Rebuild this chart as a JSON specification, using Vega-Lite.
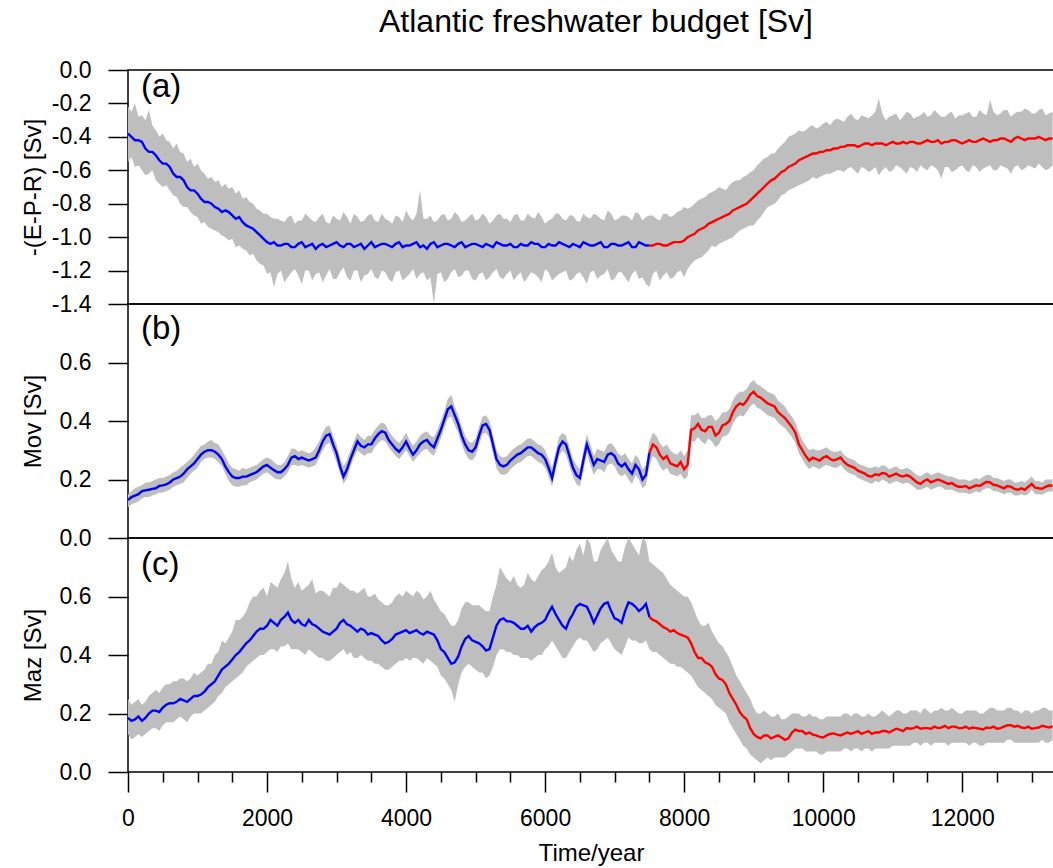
{
"$schema":"https://vega.github.io/schema/vega-lite/v6.json",
"padding":{"left":20,"top":5,"right":0,"bottom":0},
"spacing":0,
"bounds":"flush",
"config":{"view":{"stroke":"#000","strokeWidth":1.5},"font":"Liberation Sans",
"axis":{"labelFont":"Liberation Sans","titleFont":"Liberation Sans","labelFontSize":23,"titleFontSize":24,"titleFontWeight":"normal","labelColor":"#000","titleColor":"#000","tickColor":"#000","domain":false,"grid":false,"tickWidth":1.5,"labelOverlap":false}},
"datasets":{
"a":[
{"t":0,"v":-0.38,"lo":-0.55,"hi":-0.22},{"t":100,"v":-0.42,"lo":-0.58,"hi":-0.2},{"t":200,"v":-0.43,"lo":-0.6,"hi":-0.27},{"t":300,"v":-0.49,"lo":-0.62,"hi":-0.24},{"t":400,"v":-0.51,"lo":-0.66,"hi":-0.36},{"t":500,"v":-0.56,"lo":-0.7,"hi":-0.38},{"t":600,"v":-0.58,"lo":-0.72,"hi":-0.43},{"t":700,"v":-0.64,"lo":-0.76,"hi":-0.44},{"t":800,"v":-0.66,"lo":-0.82,"hi":-0.5},{"t":900,"v":-0.72,"lo":-0.85,"hi":-0.53},
{"t":1000,"v":-0.74,"lo":-0.88,"hi":-0.56},{"t":1100,"v":-0.79,"lo":-0.91,"hi":-0.62},{"t":1200,"v":-0.8,"lo":-0.95,"hi":-0.64},{"t":1300,"v":-0.83,"lo":-0.97,"hi":-0.66},{"t":1400,"v":-0.84,"lo":-1.0,"hi":-0.68},{"t":1500,"v":-0.87,"lo":-1.01,"hi":-0.7},{"t":1600,"v":-0.88,"lo":-1.05,"hi":-0.72},{"t":1700,"v":-0.93,"lo":-1.08,"hi":-0.76},{"t":1800,"v":-0.95,"lo":-1.1,"hi":-0.8},{"t":1900,"v":-0.99,"lo":-1.16,"hi":-0.84},
{"t":2000,"v":-1.03,"lo":-1.22,"hi":-0.86},{"t":2100,"v":-1.03,"lo":-1.3,"hi":-0.89},{"t":2200,"v":-1.05,"lo":-1.2,"hi":-0.9},{"t":2300,"v":-1.04,"lo":-1.24,"hi":-0.88},{"t":2400,"v":-1.06,"lo":-1.19,"hi":-0.92},{"t":2500,"v":-1.03,"lo":-1.28,"hi":-0.9},{"t":2600,"v":-1.05,"lo":-1.2,"hi":-0.88},{"t":2700,"v":-1.07,"lo":-1.22,"hi":-0.91},{"t":2800,"v":-1.04,"lo":-1.27,"hi":-0.86},{"t":2900,"v":-1.05,"lo":-1.19,"hi":-0.92},
{"t":3000,"v":-1.03,"lo":-1.25,"hi":-0.89},{"t":3100,"v":-1.06,"lo":-1.18,"hi":-0.85},{"t":3200,"v":-1.04,"lo":-1.26,"hi":-0.92},{"t":3300,"v":-1.05,"lo":-1.2,"hi":-0.88},{"t":3400,"v":-1.07,"lo":-1.23,"hi":-0.9},{"t":3500,"v":-1.03,"lo":-1.19,"hi":-0.86},{"t":3600,"v":-1.05,"lo":-1.25,"hi":-0.91},{"t":3700,"v":-1.04,"lo":-1.21,"hi":-0.89},{"t":3800,"v":-1.06,"lo":-1.27,"hi":-0.92},{"t":3900,"v":-1.03,"lo":-1.2,"hi":-0.88},
{"t":4000,"v":-1.05,"lo":-1.24,"hi":-0.84},{"t":4100,"v":-1.04,"lo":-1.19,"hi":-0.9},{"t":4200,"v":-1.06,"lo":-1.22,"hi":-0.72},{"t":4300,"v":-1.07,"lo":-1.26,"hi":-0.89},{"t":4400,"v":-1.03,"lo":-1.4,"hi":-0.91},{"t":4500,"v":-1.05,"lo":-1.21,"hi":-0.87},{"t":4600,"v":-1.04,"lo":-1.25,"hi":-0.9},{"t":4700,"v":-1.06,"lo":-1.19,"hi":-0.85},{"t":4800,"v":-1.03,"lo":-1.23,"hi":-0.91},{"t":4900,"v":-1.05,"lo":-1.2,"hi":-0.88},
{"t":5000,"v":-1.04,"lo":-1.26,"hi":-0.9},{"t":5100,"v":-1.06,"lo":-1.21,"hi":-0.86},{"t":5200,"v":-1.05,"lo":-1.24,"hi":-0.92},{"t":5300,"v":-1.03,"lo":-1.19,"hi":-0.87},{"t":5400,"v":-1.05,"lo":-1.25,"hi":-0.89},{"t":5500,"v":-1.04,"lo":-1.2,"hi":-0.91},{"t":5600,"v":-1.06,"lo":-1.23,"hi":-0.86},{"t":5700,"v":-1.05,"lo":-1.27,"hi":-0.9},{"t":5800,"v":-1.03,"lo":-1.21,"hi":-0.88},{"t":5900,"v":-1.04,"lo":-1.24,"hi":-0.85},
{"t":6000,"v":-1.06,"lo":-1.19,"hi":-0.92},{"t":6100,"v":-1.05,"lo":-1.26,"hi":-0.89},{"t":6200,"v":-1.03,"lo":-1.22,"hi":-0.86},{"t":6300,"v":-1.05,"lo":-1.2,"hi":-0.9},{"t":6400,"v":-1.04,"lo":-1.25,"hi":-0.87},{"t":6500,"v":-1.06,"lo":-1.21,"hi":-0.91},{"t":6600,"v":-1.04,"lo":-1.28,"hi":-0.88},{"t":6700,"v":-1.05,"lo":-1.2,"hi":-0.86},{"t":6800,"v":-1.03,"lo":-1.23,"hi":-0.89},{"t":6900,"v":-1.06,"lo":-1.19,"hi":-0.84},
{"t":7000,"v":-1.04,"lo":-1.25,"hi":-0.9},{"t":7100,"v":-1.05,"lo":-1.21,"hi":-0.87},{"t":7200,"v":-1.03,"lo":-1.27,"hi":-0.88},{"t":7300,"v":-1.06,"lo":-1.2,"hi":-0.85},{"t":7400,"v":-1.04,"lo":-1.24,"hi":-0.9},{"t":7500,"v":-1.05,"lo":-1.3,"hi":-0.87},{"t":7600,"v":-1.04,"lo":-1.2,"hi":-0.89},{"t":7700,"v":-1.05,"lo":-1.23,"hi":-0.86},{"t":7800,"v":-1.04,"lo":-1.25,"hi":-0.88},{"t":7900,"v":-1.03,"lo":-1.21,"hi":-0.85},
{"t":8000,"v":-1.02,"lo":-1.24,"hi":-0.82},{"t":8100,"v":-0.99,"lo":-1.16,"hi":-0.82},{"t":8200,"v":-0.96,"lo":-1.13,"hi":-0.78},{"t":8300,"v":-0.94,"lo":-1.1,"hi":-0.76},{"t":8400,"v":-0.91,"lo":-1.05,"hi":-0.73},{"t":8500,"v":-0.89,"lo":-1.04,"hi":-0.7},{"t":8600,"v":-0.87,"lo":-1.02,"hi":-0.72},{"t":8700,"v":-0.84,"lo":-1.0,"hi":-0.67},{"t":8800,"v":-0.82,"lo":-0.96,"hi":-0.66},{"t":8900,"v":-0.8,"lo":-0.94,"hi":-0.63},
{"t":9000,"v":-0.76,"lo":-0.93,"hi":-0.6},{"t":9100,"v":-0.72,"lo":-0.88,"hi":-0.55},{"t":9200,"v":-0.68,"lo":-0.82,"hi":-0.52},{"t":9300,"v":-0.65,"lo":-0.8,"hi":-0.5},{"t":9400,"v":-0.61,"lo":-0.75,"hi":-0.45},{"t":9500,"v":-0.58,"lo":-0.72,"hi":-0.4},{"t":9600,"v":-0.56,"lo":-0.7,"hi":-0.38},{"t":9700,"v":-0.53,"lo":-0.68,"hi":-0.37},{"t":9800,"v":-0.51,"lo":-0.66,"hi":-0.34},{"t":9900,"v":-0.5,"lo":-0.65,"hi":-0.35},
{"t":10000,"v":-0.49,"lo":-0.63,"hi":-0.32},{"t":10100,"v":-0.48,"lo":-0.62,"hi":-0.33},{"t":10200,"v":-0.47,"lo":-0.6,"hi":-0.29},{"t":10300,"v":-0.46,"lo":-0.61,"hi":-0.31},{"t":10400,"v":-0.45,"lo":-0.58,"hi":-0.26},{"t":10500,"v":-0.46,"lo":-0.62,"hi":-0.3},{"t":10600,"v":-0.44,"lo":-0.59,"hi":-0.28},{"t":10700,"v":-0.45,"lo":-0.6,"hi":-0.27},{"t":10800,"v":-0.44,"lo":-0.63,"hi":-0.17},{"t":10900,"v":-0.45,"lo":-0.58,"hi":-0.3},
{"t":11000,"v":-0.43,"lo":-0.6,"hi":-0.27},{"t":11100,"v":-0.44,"lo":-0.58,"hi":-0.3},{"t":11200,"v":-0.44,"lo":-0.62,"hi":-0.25},{"t":11300,"v":-0.43,"lo":-0.59,"hi":-0.29},{"t":11400,"v":-0.44,"lo":-0.57,"hi":-0.27},{"t":11500,"v":-0.42,"lo":-0.6,"hi":-0.28},{"t":11600,"v":-0.43,"lo":-0.58,"hi":-0.24},{"t":11700,"v":-0.44,"lo":-0.65,"hi":-0.28},{"t":11800,"v":-0.43,"lo":-0.58,"hi":-0.26},{"t":11900,"v":-0.42,"lo":-0.6,"hi":-0.29},
{"t":12000,"v":-0.44,"lo":-0.57,"hi":-0.27},{"t":12100,"v":-0.42,"lo":-0.61,"hi":-0.25},{"t":12200,"v":-0.43,"lo":-0.58,"hi":-0.28},{"t":12300,"v":-0.41,"lo":-0.59,"hi":-0.26},{"t":12400,"v":-0.43,"lo":-0.57,"hi":-0.18},{"t":12500,"v":-0.42,"lo":-0.6,"hi":-0.27},{"t":12600,"v":-0.41,"lo":-0.58,"hi":-0.24},{"t":12700,"v":-0.43,"lo":-0.62,"hi":-0.28},{"t":12800,"v":-0.4,"lo":-0.57,"hi":-0.25},{"t":12900,"v":-0.42,"lo":-0.59,"hi":-0.23},
{"t":13000,"v":-0.41,"lo":-0.58,"hi":-0.26},{"t":13100,"v":-0.4,"lo":-0.56,"hi":-0.24},{"t":13200,"v":-0.42,"lo":-0.6,"hi":-0.27},{"t":13300,"v":-0.41,"lo":-0.57,"hi":-0.25},
{"t":50,"v":-0.4,"lo":-0.52,"hi":-0.25},{"t":150,"v":-0.42,"lo":-0.57,"hi":-0.28},{"t":250,"v":-0.47,"lo":-0.63,"hi":-0.3},{"t":350,"v":-0.49,"lo":-0.6,"hi":-0.33},{"t":450,"v":-0.54,"lo":-0.68,"hi":-0.4},{"t":550,"v":-0.56,"lo":-0.69,"hi":-0.42},{"t":650,"v":-0.62,"lo":-0.75,"hi":-0.47},{"t":750,"v":-0.64,"lo":-0.8,"hi":-0.49},{"t":850,"v":-0.7,"lo":-0.82,"hi":-0.55},{"t":950,"v":-0.72,"lo":-0.87,"hi":-0.58},
{"t":1050,"v":-0.77,"lo":-0.92,"hi":-0.6},{"t":1150,"v":-0.79,"lo":-0.94,"hi":-0.65},{"t":1250,"v":-0.82,"lo":-0.96,"hi":-0.67},{"t":1350,"v":-0.85,"lo":-0.99,"hi":-0.7},{"t":1450,"v":-0.85,"lo":-1.02,"hi":-0.71},{"t":1550,"v":-0.89,"lo":-1.06,"hi":-0.74},{"t":1650,"v":-0.91,"lo":-1.07,"hi":-0.77},{"t":1750,"v":-0.94,"lo":-1.11,"hi":-0.79},{"t":1850,"v":-0.97,"lo":-1.14,"hi":-0.83},{"t":1950,"v":-1.01,"lo":-1.17,"hi":-0.86},
{"t":2050,"v":-1.04,"lo":-1.21,"hi":-0.88},{"t":2150,"v":-1.05,"lo":-1.22,"hi":-0.89},{"t":2250,"v":-1.04,"lo":-1.27,"hi":-0.91},{"t":2350,"v":-1.06,"lo":-1.21,"hi":-0.87},{"t":2450,"v":-1.04,"lo":-1.23,"hi":-0.9},{"t":2550,"v":-1.06,"lo":-1.2,"hi":-0.86},{"t":2650,"v":-1.04,"lo":-1.26,"hi":-0.9},{"t":2750,"v":-1.05,"lo":-1.21,"hi":-0.88},{"t":2850,"v":-1.06,"lo":-1.23,"hi":-0.91},{"t":2950,"v":-1.04,"lo":-1.25,"hi":-0.87},
{"t":3050,"v":-1.05,"lo":-1.21,"hi":-0.9},{"t":3150,"v":-1.04,"lo":-1.24,"hi":-0.88},{"t":3250,"v":-1.06,"lo":-1.2,"hi":-0.86},{"t":3350,"v":-1.04,"lo":-1.27,"hi":-0.91},{"t":3450,"v":-1.05,"lo":-1.22,"hi":-0.87},{"t":3550,"v":-1.06,"lo":-1.24,"hi":-0.9},{"t":3650,"v":-1.04,"lo":-1.2,"hi":-0.86},{"t":3750,"v":-1.05,"lo":-1.25,"hi":-0.9},{"t":3850,"v":-1.04,"lo":-1.21,"hi":-0.87},{"t":3950,"v":-1.06,"lo":-1.26,"hi":-0.91},
{"t":4050,"v":-1.05,"lo":-1.22,"hi":-0.88},{"t":4150,"v":-1.03,"lo":-1.25,"hi":-0.86},{"t":4250,"v":-1.05,"lo":-1.21,"hi":-0.89},{"t":4350,"v":-1.04,"lo":-1.24,"hi":-0.87},{"t":4450,"v":-1.06,"lo":-1.22,"hi":-0.9},{"t":4550,"v":-1.04,"lo":-1.27,"hi":-0.86},{"t":4650,"v":-1.05,"lo":-1.21,"hi":-0.89},{"t":4750,"v":-1.04,"lo":-1.24,"hi":-0.87},{"t":4850,"v":-1.06,"lo":-1.2,"hi":-0.9},{"t":4950,"v":-1.04,"lo":-1.25,"hi":-0.86},
{"t":5050,"v":-1.05,"lo":-1.22,"hi":-0.89},{"t":5150,"v":-1.04,"lo":-1.26,"hi":-0.88},{"t":5250,"v":-1.06,"lo":-1.21,"hi":-0.9},{"t":5350,"v":-1.04,"lo":-1.24,"hi":-0.86},{"t":5450,"v":-1.05,"lo":-1.22,"hi":-0.89},{"t":5550,"v":-1.06,"lo":-1.26,"hi":-0.87},{"t":5650,"v":-1.04,"lo":-1.21,"hi":-0.9},{"t":5750,"v":-1.05,"lo":-1.24,"hi":-0.86},{"t":5850,"v":-1.04,"lo":-1.22,"hi":-0.89},{"t":5950,"v":-1.06,"lo":-1.27,"hi":-0.88},
{"t":6050,"v":-1.04,"lo":-1.21,"hi":-0.9},{"t":6150,"v":-1.05,"lo":-1.24,"hi":-0.86},{"t":6250,"v":-1.04,"lo":-1.21,"hi":-0.89},{"t":6350,"v":-1.06,"lo":-1.26,"hi":-0.87},{"t":6450,"v":-1.05,"lo":-1.22,"hi":-0.9},{"t":6550,"v":-1.03,"lo":-1.24,"hi":-0.86},{"t":6650,"v":-1.05,"lo":-1.21,"hi":-0.89},{"t":6750,"v":-1.04,"lo":-1.25,"hi":-0.87},{"t":6850,"v":-1.06,"lo":-1.22,"hi":-0.9},{"t":6950,"v":-1.04,"lo":-1.26,"hi":-0.86},
{"t":7050,"v":-1.05,"lo":-1.21,"hi":-0.89},{"t":7150,"v":-1.04,"lo":-1.24,"hi":-0.87},{"t":7250,"v":-1.06,"lo":-1.22,"hi":-0.9},{"t":7350,"v":-1.03,"lo":-1.25,"hi":-0.86},{"t":7450,"v":-1.05,"lo":-1.28,"hi":-0.88},{"t":7550,"v":-1.05,"lo":-1.22,"hi":-0.87},{"t":7650,"v":-1.04,"lo":-1.26,"hi":-0.9},{"t":7750,"v":-1.05,"lo":-1.21,"hi":-0.86},{"t":7850,"v":-1.03,"lo":-1.24,"hi":-0.87},{"t":7950,"v":-1.03,"lo":-1.2,"hi":-0.84},
{"t":8050,"v":-1.0,"lo":-1.19,"hi":-0.83},{"t":8150,"v":-0.98,"lo":-1.14,"hi":-0.8},{"t":8250,"v":-0.95,"lo":-1.12,"hi":-0.77},{"t":8350,"v":-0.92,"lo":-1.08,"hi":-0.74},{"t":8450,"v":-0.9,"lo":-1.06,"hi":-0.72},{"t":8550,"v":-0.88,"lo":-1.03,"hi":-0.71},{"t":8650,"v":-0.86,"lo":-1.01,"hi":-0.69},{"t":8750,"v":-0.83,"lo":-0.98,"hi":-0.66},{"t":8850,"v":-0.81,"lo":-0.95,"hi":-0.64},{"t":8950,"v":-0.78,"lo":-0.93,"hi":-0.61},
{"t":9050,"v":-0.74,"lo":-0.9,"hi":-0.57},{"t":9150,"v":-0.7,"lo":-0.85,"hi":-0.53},{"t":9250,"v":-0.66,"lo":-0.81,"hi":-0.5},{"t":9350,"v":-0.63,"lo":-0.78,"hi":-0.47},{"t":9450,"v":-0.6,"lo":-0.74,"hi":-0.43},{"t":9550,"v":-0.57,"lo":-0.71,"hi":-0.39},{"t":9650,"v":-0.54,"lo":-0.69,"hi":-0.36},{"t":9750,"v":-0.52,"lo":-0.67,"hi":-0.36},{"t":9850,"v":-0.5,"lo":-0.64,"hi":-0.33},{"t":9950,"v":-0.49,"lo":-0.64,"hi":-0.34},
{"t":10050,"v":-0.48,"lo":-0.62,"hi":-0.31},{"t":10150,"v":-0.47,"lo":-0.61,"hi":-0.3},{"t":10250,"v":-0.46,"lo":-0.6,"hi":-0.3},{"t":10350,"v":-0.45,"lo":-0.59,"hi":-0.28},{"t":10450,"v":-0.45,"lo":-0.6,"hi":-0.29},{"t":10550,"v":-0.45,"lo":-0.58,"hi":-0.27},{"t":10650,"v":-0.44,"lo":-0.61,"hi":-0.29},{"t":10750,"v":-0.44,"lo":-0.58,"hi":-0.25},{"t":10850,"v":-0.44,"lo":-0.6,"hi":-0.26},{"t":10950,"v":-0.44,"lo":-0.61,"hi":-0.28},
{"t":11050,"v":-0.44,"lo":-0.57,"hi":-0.26},{"t":11150,"v":-0.43,"lo":-0.6,"hi":-0.28},{"t":11250,"v":-0.43,"lo":-0.58,"hi":-0.26},{"t":11350,"v":-0.44,"lo":-0.61,"hi":-0.28},{"t":11450,"v":-0.43,"lo":-0.59,"hi":-0.25},{"t":11550,"v":-0.43,"lo":-0.57,"hi":-0.27},{"t":11650,"v":-0.42,"lo":-0.6,"hi":-0.26},{"t":11750,"v":-0.43,"lo":-0.58,"hi":-0.28},{"t":11850,"v":-0.42,"lo":-0.61,"hi":-0.25},{"t":11950,"v":-0.43,"lo":-0.58,"hi":-0.27},
{"t":12050,"v":-0.43,"lo":-0.6,"hi":-0.26},{"t":12150,"v":-0.43,"lo":-0.57,"hi":-0.28},{"t":12250,"v":-0.42,"lo":-0.61,"hi":-0.24},{"t":12350,"v":-0.42,"lo":-0.58,"hi":-0.27},{"t":12450,"v":-0.42,"lo":-0.6,"hi":-0.25},{"t":12550,"v":-0.41,"lo":-0.57,"hi":-0.26},{"t":12650,"v":-0.42,"lo":-0.59,"hi":-0.24},{"t":12750,"v":-0.41,"lo":-0.58,"hi":-0.26},{"t":12850,"v":-0.41,"lo":-0.6,"hi":-0.25},{"t":12950,"v":-0.41,"lo":-0.57,"hi":-0.24},
{"t":13050,"v":-0.41,"lo":-0.59,"hi":-0.26},{"t":13150,"v":-0.41,"lo":-0.58,"hi":-0.23},{"t":13250,"v":-0.41,"lo":-0.59,"hi":-0.26}
],
"b":[
{"t":0,"v":0.13,"lo":0.105,"hi":0.15},{"t":100,"v":0.145,"lo":0.12,"hi":0.17},{"t":200,"v":0.16,"lo":0.135,"hi":0.18},{"t":300,"v":0.165,"lo":0.14,"hi":0.19},{"t":400,"v":0.17,"lo":0.15,"hi":0.2},{"t":500,"v":0.18,"lo":0.155,"hi":0.205},{"t":600,"v":0.19,"lo":0.165,"hi":0.215},{"t":700,"v":0.205,"lo":0.18,"hi":0.23},{"t":800,"v":0.22,"lo":0.19,"hi":0.25},{"t":900,"v":0.245,"lo":0.22,"hi":0.27},
{"t":1000,"v":0.27,"lo":0.24,"hi":0.3},{"t":1100,"v":0.295,"lo":0.27,"hi":0.32},{"t":1200,"v":0.3,"lo":0.275,"hi":0.335},{"t":1300,"v":0.285,"lo":0.26,"hi":0.32},{"t":1400,"v":0.245,"lo":0.22,"hi":0.28},{"t":1500,"v":0.21,"lo":0.18,"hi":0.24},{"t":1600,"v":0.205,"lo":0.175,"hi":0.23},{"t":1700,"v":0.21,"lo":0.18,"hi":0.235},{"t":1800,"v":0.22,"lo":0.195,"hi":0.245},{"t":1900,"v":0.235,"lo":0.21,"hi":0.26},
{"t":2000,"v":0.25,"lo":0.225,"hi":0.275},{"t":2100,"v":0.232,"lo":0.205,"hi":0.26},{"t":2200,"v":0.225,"lo":0.2,"hi":0.25},{"t":2300,"v":0.25,"lo":0.225,"hi":0.28},{"t":2400,"v":0.28,"lo":0.25,"hi":0.305},{"t":2500,"v":0.275,"lo":0.25,"hi":0.3},{"t":2600,"v":0.265,"lo":0.24,"hi":0.29},{"t":2700,"v":0.275,"lo":0.25,"hi":0.31},{"t":2800,"v":0.33,"lo":0.3,"hi":0.36},{"t":2900,"v":0.355,"lo":0.325,"hi":0.385},
{"t":3000,"v":0.29,"lo":0.26,"hi":0.32},{"t":3100,"v":0.21,"lo":0.185,"hi":0.245},{"t":3200,"v":0.27,"lo":0.245,"hi":0.3},{"t":3300,"v":0.33,"lo":0.3,"hi":0.36},{"t":3400,"v":0.31,"lo":0.28,"hi":0.335},{"t":3500,"v":0.32,"lo":0.29,"hi":0.35},{"t":3600,"v":0.355,"lo":0.325,"hi":0.385},{"t":3700,"v":0.36,"lo":0.33,"hi":0.39},{"t":3800,"v":0.32,"lo":0.295,"hi":0.35},{"t":3900,"v":0.295,"lo":0.27,"hi":0.325},
{"t":4000,"v":0.33,"lo":0.3,"hi":0.36},{"t":4100,"v":0.285,"lo":0.26,"hi":0.315},{"t":4200,"v":0.32,"lo":0.29,"hi":0.35},{"t":4300,"v":0.335,"lo":0.305,"hi":0.365},{"t":4400,"v":0.31,"lo":0.28,"hi":0.345},{"t":4500,"v":0.37,"lo":0.34,"hi":0.4},{"t":4600,"v":0.44,"lo":0.41,"hi":0.475},{"t":4700,"v":0.42,"lo":0.385,"hi":0.45},{"t":4800,"v":0.35,"lo":0.32,"hi":0.38},{"t":4900,"v":0.3,"lo":0.27,"hi":0.33},
{"t":5000,"v":0.31,"lo":0.28,"hi":0.34},{"t":5100,"v":0.385,"lo":0.355,"hi":0.415},{"t":5200,"v":0.37,"lo":0.34,"hi":0.4},{"t":5300,"v":0.27,"lo":0.24,"hi":0.3},{"t":5400,"v":0.245,"lo":0.215,"hi":0.275},{"t":5500,"v":0.265,"lo":0.235,"hi":0.295},{"t":5600,"v":0.285,"lo":0.255,"hi":0.315},{"t":5700,"v":0.3,"lo":0.27,"hi":0.33},{"t":5800,"v":0.31,"lo":0.28,"hi":0.34},{"t":5900,"v":0.29,"lo":0.26,"hi":0.32},
{"t":6000,"v":0.27,"lo":0.24,"hi":0.3},{"t":6100,"v":0.205,"lo":0.175,"hi":0.24},{"t":6200,"v":0.31,"lo":0.28,"hi":0.345},{"t":6300,"v":0.32,"lo":0.285,"hi":0.35},{"t":6400,"v":0.24,"lo":0.21,"hi":0.27},{"t":6500,"v":0.205,"lo":0.175,"hi":0.235},{"t":6600,"v":0.32,"lo":0.29,"hi":0.355},{"t":6700,"v":0.25,"lo":0.215,"hi":0.28},{"t":6800,"v":0.265,"lo":0.235,"hi":0.3},{"t":6900,"v":0.285,"lo":0.25,"hi":0.32},
{"t":7000,"v":0.28,"lo":0.245,"hi":0.31},{"t":7100,"v":0.245,"lo":0.21,"hi":0.28},{"t":7200,"v":0.235,"lo":0.2,"hi":0.27},{"t":7300,"v":0.25,"lo":0.215,"hi":0.285},{"t":7400,"v":0.2,"lo":0.17,"hi":0.235},{"t":7500,"v":0.29,"lo":0.25,"hi":0.33},{"t":7600,"v":0.31,"lo":0.27,"hi":0.35},{"t":7700,"v":0.27,"lo":0.23,"hi":0.31},{"t":7800,"v":0.255,"lo":0.22,"hi":0.3},{"t":7900,"v":0.245,"lo":0.21,"hi":0.285},
{"t":8000,"v":0.235,"lo":0.2,"hi":0.28},{"t":8100,"v":0.37,"lo":0.33,"hi":0.42},{"t":8200,"v":0.39,"lo":0.345,"hi":0.43},{"t":8300,"v":0.365,"lo":0.32,"hi":0.41},{"t":8400,"v":0.38,"lo":0.33,"hi":0.42},{"t":8500,"v":0.36,"lo":0.32,"hi":0.41},{"t":8600,"v":0.39,"lo":0.35,"hi":0.43},{"t":8700,"v":0.43,"lo":0.39,"hi":0.47},{"t":8800,"v":0.46,"lo":0.42,"hi":0.5},{"t":8900,"v":0.47,"lo":0.43,"hi":0.51},
{"t":9000,"v":0.5,"lo":0.46,"hi":0.54},{"t":9100,"v":0.48,"lo":0.44,"hi":0.52},{"t":9200,"v":0.46,"lo":0.42,"hi":0.5},{"t":9300,"v":0.45,"lo":0.41,"hi":0.49},{"t":9400,"v":0.42,"lo":0.385,"hi":0.46},{"t":9500,"v":0.395,"lo":0.36,"hi":0.43},{"t":9600,"v":0.36,"lo":0.325,"hi":0.395},{"t":9700,"v":0.3,"lo":0.27,"hi":0.335},{"t":9800,"v":0.265,"lo":0.235,"hi":0.3},{"t":9900,"v":0.27,"lo":0.24,"hi":0.3},
{"t":10000,"v":0.275,"lo":0.245,"hi":0.305},{"t":10100,"v":0.27,"lo":0.245,"hi":0.3},{"t":10200,"v":0.27,"lo":0.24,"hi":0.295},{"t":10300,"v":0.26,"lo":0.235,"hi":0.285},{"t":10400,"v":0.245,"lo":0.22,"hi":0.27},{"t":10500,"v":0.23,"lo":0.205,"hi":0.255},{"t":10600,"v":0.22,"lo":0.195,"hi":0.245},{"t":10700,"v":0.21,"lo":0.185,"hi":0.24},{"t":10800,"v":0.215,"lo":0.19,"hi":0.24},{"t":10900,"v":0.22,"lo":0.195,"hi":0.245},
{"t":11000,"v":0.215,"lo":0.19,"hi":0.24},{"t":11100,"v":0.213,"lo":0.19,"hi":0.235},{"t":11200,"v":0.215,"lo":0.19,"hi":0.24},{"t":11300,"v":0.2,"lo":0.175,"hi":0.225},{"t":11400,"v":0.185,"lo":0.165,"hi":0.21},{"t":11500,"v":0.2,"lo":0.175,"hi":0.225},{"t":11600,"v":0.195,"lo":0.17,"hi":0.22},{"t":11700,"v":0.195,"lo":0.175,"hi":0.22},{"t":11800,"v":0.185,"lo":0.165,"hi":0.21},{"t":11900,"v":0.18,"lo":0.16,"hi":0.205},
{"t":12000,"v":0.175,"lo":0.155,"hi":0.2},{"t":12100,"v":0.17,"lo":0.15,"hi":0.195},{"t":12200,"v":0.18,"lo":0.16,"hi":0.205},{"t":12300,"v":0.185,"lo":0.165,"hi":0.21},{"t":12400,"v":0.19,"lo":0.17,"hi":0.215},{"t":12500,"v":0.18,"lo":0.16,"hi":0.205},{"t":12600,"v":0.17,"lo":0.15,"hi":0.195},{"t":12700,"v":0.175,"lo":0.155,"hi":0.2},{"t":12800,"v":0.165,"lo":0.145,"hi":0.19},{"t":12900,"v":0.165,"lo":0.145,"hi":0.19},
{"t":13000,"v":0.185,"lo":0.165,"hi":0.21},{"t":13100,"v":0.17,"lo":0.15,"hi":0.195},{"t":13200,"v":0.175,"lo":0.155,"hi":0.2},{"t":13300,"v":0.178,"lo":0.158,"hi":0.2},
{"t":50,"v":0.14,"lo":0.115,"hi":0.16},{"t":150,"v":0.15,"lo":0.125,"hi":0.175},{"t":250,"v":0.163,"lo":0.14,"hi":0.19},{"t":350,"v":0.168,"lo":0.145,"hi":0.195},{"t":450,"v":0.178,"lo":0.155,"hi":0.205},{"t":550,"v":0.183,"lo":0.16,"hi":0.21},{"t":650,"v":0.2,"lo":0.175,"hi":0.225},{"t":750,"v":0.21,"lo":0.185,"hi":0.24},{"t":850,"v":0.235,"lo":0.205,"hi":0.26},{"t":950,"v":0.255,"lo":0.23,"hi":0.285},
{"t":1050,"v":0.285,"lo":0.26,"hi":0.315},{"t":1150,"v":0.3,"lo":0.275,"hi":0.33},{"t":1250,"v":0.295,"lo":0.27,"hi":0.325},{"t":1350,"v":0.27,"lo":0.245,"hi":0.3},{"t":1450,"v":0.225,"lo":0.195,"hi":0.255},{"t":1550,"v":0.205,"lo":0.175,"hi":0.235},{"t":1650,"v":0.21,"lo":0.18,"hi":0.24},{"t":1750,"v":0.215,"lo":0.19,"hi":0.24},{"t":1850,"v":0.225,"lo":0.2,"hi":0.25},{"t":1950,"v":0.245,"lo":0.22,"hi":0.27},
{"t":2050,"v":0.24,"lo":0.215,"hi":0.27},{"t":2150,"v":0.225,"lo":0.2,"hi":0.25},{"t":2250,"v":0.235,"lo":0.21,"hi":0.26},{"t":2350,"v":0.275,"lo":0.25,"hi":0.305},{"t":2450,"v":0.27,"lo":0.245,"hi":0.295},{"t":2550,"v":0.27,"lo":0.245,"hi":0.295},{"t":2650,"v":0.27,"lo":0.245,"hi":0.295},{"t":2750,"v":0.3,"lo":0.275,"hi":0.33},{"t":2850,"v":0.35,"lo":0.32,"hi":0.38},{"t":2950,"v":0.32,"lo":0.29,"hi":0.35},
{"t":3050,"v":0.245,"lo":0.22,"hi":0.275},{"t":3150,"v":0.235,"lo":0.205,"hi":0.265},{"t":3250,"v":0.3,"lo":0.275,"hi":0.33},{"t":3350,"v":0.315,"lo":0.29,"hi":0.345},{"t":3450,"v":0.32,"lo":0.29,"hi":0.35},{"t":3550,"v":0.34,"lo":0.31,"hi":0.37},{"t":3650,"v":0.365,"lo":0.335,"hi":0.395},{"t":3750,"v":0.335,"lo":0.31,"hi":0.365},{"t":3850,"v":0.305,"lo":0.28,"hi":0.335},{"t":3950,"v":0.31,"lo":0.285,"hi":0.34},
{"t":4050,"v":0.305,"lo":0.28,"hi":0.335},{"t":4150,"v":0.3,"lo":0.275,"hi":0.33},{"t":4250,"v":0.33,"lo":0.3,"hi":0.36},{"t":4350,"v":0.32,"lo":0.29,"hi":0.35},{"t":4450,"v":0.34,"lo":0.31,"hi":0.37},{"t":4550,"v":0.405,"lo":0.375,"hi":0.435},{"t":4650,"v":0.45,"lo":0.415,"hi":0.49},{"t":4750,"v":0.39,"lo":0.36,"hi":0.42},{"t":4850,"v":0.32,"lo":0.29,"hi":0.35},{"t":4950,"v":0.295,"lo":0.265,"hi":0.325},
{"t":5050,"v":0.35,"lo":0.32,"hi":0.38},{"t":5150,"v":0.39,"lo":0.36,"hi":0.42},{"t":5250,"v":0.32,"lo":0.29,"hi":0.35},{"t":5350,"v":0.25,"lo":0.22,"hi":0.28},{"t":5450,"v":0.25,"lo":0.22,"hi":0.28},{"t":5550,"v":0.275,"lo":0.245,"hi":0.305},{"t":5650,"v":0.29,"lo":0.26,"hi":0.32},{"t":5750,"v":0.31,"lo":0.28,"hi":0.34},{"t":5850,"v":0.3,"lo":0.27,"hi":0.33},{"t":5950,"v":0.285,"lo":0.255,"hi":0.315},
{"t":6050,"v":0.24,"lo":0.21,"hi":0.27},{"t":6150,"v":0.26,"lo":0.23,"hi":0.295},{"t":6250,"v":0.33,"lo":0.3,"hi":0.36},{"t":6350,"v":0.28,"lo":0.245,"hi":0.31},{"t":6450,"v":0.215,"lo":0.185,"hi":0.25},{"t":6550,"v":0.265,"lo":0.23,"hi":0.3},{"t":6650,"v":0.285,"lo":0.25,"hi":0.32},{"t":6750,"v":0.27,"lo":0.235,"hi":0.305},{"t":6850,"v":0.26,"lo":0.225,"hi":0.295},{"t":6950,"v":0.29,"lo":0.255,"hi":0.325},
{"t":7050,"v":0.255,"lo":0.22,"hi":0.29},{"t":7150,"v":0.255,"lo":0.22,"hi":0.29},{"t":7250,"v":0.22,"lo":0.185,"hi":0.255},{"t":7350,"v":0.235,"lo":0.2,"hi":0.27},{"t":7450,"v":0.215,"lo":0.18,"hi":0.25},{"t":7550,"v":0.32,"lo":0.28,"hi":0.36},{"t":7650,"v":0.285,"lo":0.245,"hi":0.325},{"t":7750,"v":0.28,"lo":0.24,"hi":0.32},{"t":7850,"v":0.25,"lo":0.215,"hi":0.29},{"t":7950,"v":0.26,"lo":0.22,"hi":0.3},
{"t":8050,"v":0.25,"lo":0.21,"hi":0.3},{"t":8150,"v":0.375,"lo":0.33,"hi":0.42},{"t":8250,"v":0.37,"lo":0.33,"hi":0.41},{"t":8350,"v":0.38,"lo":0.34,"hi":0.42},{"t":8450,"v":0.35,"lo":0.31,"hi":0.4},{"t":8550,"v":0.385,"lo":0.345,"hi":0.43},{"t":8650,"v":0.4,"lo":0.36,"hi":0.44},{"t":8750,"v":0.45,"lo":0.41,"hi":0.49},{"t":8850,"v":0.455,"lo":0.415,"hi":0.5},{"t":8950,"v":0.49,"lo":0.45,"hi":0.53},
{"t":9050,"v":0.485,"lo":0.445,"hi":0.525},{"t":9150,"v":0.47,"lo":0.43,"hi":0.51},{"t":9250,"v":0.455,"lo":0.415,"hi":0.495},{"t":9350,"v":0.43,"lo":0.395,"hi":0.47},{"t":9450,"v":0.41,"lo":0.375,"hi":0.45},{"t":9550,"v":0.38,"lo":0.345,"hi":0.415},{"t":9650,"v":0.32,"lo":0.29,"hi":0.36},{"t":9750,"v":0.28,"lo":0.25,"hi":0.315},{"t":9850,"v":0.275,"lo":0.245,"hi":0.305},{"t":9950,"v":0.265,"lo":0.235,"hi":0.3},
{"t":10050,"v":0.28,"lo":0.25,"hi":0.31},{"t":10150,"v":0.265,"lo":0.24,"hi":0.295},{"t":10250,"v":0.275,"lo":0.25,"hi":0.3},{"t":10350,"v":0.25,"lo":0.225,"hi":0.275},{"t":10450,"v":0.24,"lo":0.215,"hi":0.265},{"t":10550,"v":0.225,"lo":0.2,"hi":0.25},{"t":10650,"v":0.212,"lo":0.19,"hi":0.24},{"t":10750,"v":0.218,"lo":0.195,"hi":0.245},{"t":10850,"v":0.222,"lo":0.2,"hi":0.25},{"t":10950,"v":0.21,"lo":0.185,"hi":0.235},
{"t":11050,"v":0.22,"lo":0.195,"hi":0.245},{"t":11150,"v":0.21,"lo":0.185,"hi":0.235},{"t":11250,"v":0.21,"lo":0.185,"hi":0.235},{"t":11350,"v":0.19,"lo":0.165,"hi":0.215},{"t":11450,"v":0.195,"lo":0.17,"hi":0.22},{"t":11550,"v":0.19,"lo":0.165,"hi":0.215},{"t":11650,"v":0.2,"lo":0.175,"hi":0.225},{"t":11750,"v":0.19,"lo":0.165,"hi":0.215},{"t":11850,"v":0.188,"lo":0.165,"hi":0.21},{"t":11950,"v":0.175,"lo":0.155,"hi":0.2},
{"t":12050,"v":0.178,"lo":0.155,"hi":0.2},{"t":12150,"v":0.175,"lo":0.155,"hi":0.2},{"t":12250,"v":0.178,"lo":0.155,"hi":0.2},{"t":12350,"v":0.192,"lo":0.17,"hi":0.215},{"t":12450,"v":0.182,"lo":0.16,"hi":0.205},{"t":12550,"v":0.175,"lo":0.155,"hi":0.2},{"t":12650,"v":0.178,"lo":0.155,"hi":0.2},{"t":12750,"v":0.168,"lo":0.145,"hi":0.19},{"t":12850,"v":0.17,"lo":0.15,"hi":0.195},{"t":12950,"v":0.175,"lo":0.15,"hi":0.2},
{"t":13050,"v":0.172,"lo":0.15,"hi":0.195},{"t":13150,"v":0.168,"lo":0.148,"hi":0.19},{"t":13250,"v":0.18,"lo":0.16,"hi":0.2}
],
"c":[
{"t":0,"v":0.185,"lo":0.13,"hi":0.25},{"t":100,"v":0.18,"lo":0.12,"hi":0.24},{"t":200,"v":0.175,"lo":0.12,"hi":0.23},{"t":300,"v":0.2,"lo":0.14,"hi":0.26},{"t":400,"v":0.21,"lo":0.15,"hi":0.28},{"t":500,"v":0.22,"lo":0.16,"hi":0.29},{"t":600,"v":0.235,"lo":0.17,"hi":0.3},{"t":700,"v":0.24,"lo":0.18,"hi":0.31},{"t":800,"v":0.245,"lo":0.18,"hi":0.32},{"t":900,"v":0.25,"lo":0.19,"hi":0.32},
{"t":1000,"v":0.26,"lo":0.2,"hi":0.33},{"t":1100,"v":0.275,"lo":0.21,"hi":0.35},{"t":1200,"v":0.3,"lo":0.23,"hi":0.37},{"t":1300,"v":0.33,"lo":0.26,"hi":0.41},{"t":1400,"v":0.36,"lo":0.29,"hi":0.44},{"t":1500,"v":0.385,"lo":0.31,"hi":0.48},{"t":1600,"v":0.41,"lo":0.33,"hi":0.52},{"t":1700,"v":0.44,"lo":0.36,"hi":0.55},{"t":1800,"v":0.465,"lo":0.38,"hi":0.6},{"t":1900,"v":0.49,"lo":0.4,"hi":0.62},
{"t":2000,"v":0.5,"lo":0.41,"hi":0.6},{"t":2100,"v":0.51,"lo":0.42,"hi":0.64},{"t":2200,"v":0.52,"lo":0.43,"hi":0.66},{"t":2300,"v":0.545,"lo":0.44,"hi":0.72},{"t":2400,"v":0.51,"lo":0.42,"hi":0.63},{"t":2500,"v":0.505,"lo":0.41,"hi":0.62},{"t":2600,"v":0.52,"lo":0.42,"hi":0.64},{"t":2700,"v":0.5,"lo":0.4,"hi":0.61},{"t":2800,"v":0.48,"lo":0.39,"hi":0.62},{"t":2900,"v":0.47,"lo":0.38,"hi":0.6},
{"t":3000,"v":0.49,"lo":0.4,"hi":0.63},{"t":3100,"v":0.52,"lo":0.42,"hi":0.64},{"t":3200,"v":0.5,"lo":0.41,"hi":0.62},{"t":3300,"v":0.48,"lo":0.39,"hi":0.61},{"t":3400,"v":0.485,"lo":0.39,"hi":0.63},{"t":3500,"v":0.475,"lo":0.38,"hi":0.6},{"t":3600,"v":0.465,"lo":0.37,"hi":0.59},{"t":3700,"v":0.44,"lo":0.35,"hi":0.57},{"t":3800,"v":0.455,"lo":0.36,"hi":0.58},{"t":3900,"v":0.475,"lo":0.38,"hi":0.61},
{"t":4000,"v":0.485,"lo":0.39,"hi":0.62},{"t":4100,"v":0.48,"lo":0.39,"hi":0.6},{"t":4200,"v":0.475,"lo":0.38,"hi":0.61},{"t":4300,"v":0.48,"lo":0.39,"hi":0.6},{"t":4400,"v":0.47,"lo":0.37,"hi":0.59},{"t":4500,"v":0.42,"lo":0.33,"hi":0.55},{"t":4600,"v":0.39,"lo":0.3,"hi":0.52},{"t":4700,"v":0.375,"lo":0.24,"hi":0.5},{"t":4800,"v":0.43,"lo":0.34,"hi":0.56},{"t":4900,"v":0.465,"lo":0.37,"hi":0.58},
{"t":5000,"v":0.445,"lo":0.35,"hi":0.57},{"t":5100,"v":0.43,"lo":0.34,"hi":0.56},{"t":5200,"v":0.42,"lo":0.33,"hi":0.55},{"t":5300,"v":0.5,"lo":0.4,"hi":0.64},{"t":5400,"v":0.525,"lo":0.42,"hi":0.68},{"t":5500,"v":0.515,"lo":0.41,"hi":0.65},{"t":5600,"v":0.5,"lo":0.4,"hi":0.64},{"t":5700,"v":0.49,"lo":0.39,"hi":0.64},{"t":5800,"v":0.48,"lo":0.38,"hi":0.66},{"t":5900,"v":0.505,"lo":0.4,"hi":0.67},
{"t":6000,"v":0.52,"lo":0.42,"hi":0.7},{"t":6100,"v":0.565,"lo":0.45,"hi":0.75},{"t":6200,"v":0.52,"lo":0.41,"hi":0.68},{"t":6300,"v":0.49,"lo":0.39,"hi":0.7},{"t":6400,"v":0.54,"lo":0.43,"hi":0.72},{"t":6500,"v":0.575,"lo":0.46,"hi":0.78},{"t":6600,"v":0.565,"lo":0.45,"hi":0.8},{"t":6700,"v":0.51,"lo":0.41,"hi":0.72},{"t":6800,"v":0.56,"lo":0.44,"hi":0.76},{"t":6900,"v":0.58,"lo":0.46,"hi":0.8},
{"t":7000,"v":0.525,"lo":0.42,"hi":0.74},{"t":7100,"v":0.51,"lo":0.4,"hi":0.72},{"t":7200,"v":0.58,"lo":0.46,"hi":0.8},{"t":7300,"v":0.565,"lo":0.45,"hi":0.76},{"t":7400,"v":0.56,"lo":0.44,"hi":0.8},{"t":7500,"v":0.53,"lo":0.42,"hi":0.72},{"t":7600,"v":0.515,"lo":0.41,"hi":0.7},{"t":7700,"v":0.495,"lo":0.39,"hi":0.68},{"t":7800,"v":0.48,"lo":0.37,"hi":0.64},{"t":7900,"v":0.475,"lo":0.36,"hi":0.62},
{"t":8000,"v":0.465,"lo":0.35,"hi":0.6},{"t":8100,"v":0.44,"lo":0.33,"hi":0.58},{"t":8200,"v":0.39,"lo":0.29,"hi":0.52},{"t":8300,"v":0.375,"lo":0.27,"hi":0.5},{"t":8400,"v":0.36,"lo":0.25,"hi":0.48},{"t":8500,"v":0.32,"lo":0.22,"hi":0.44},{"t":8600,"v":0.3,"lo":0.2,"hi":0.41},{"t":8700,"v":0.25,"lo":0.15,"hi":0.36},{"t":8800,"v":0.205,"lo":0.11,"hi":0.31},{"t":8900,"v":0.18,"lo":0.08,"hi":0.27},
{"t":9000,"v":0.13,"lo":0.05,"hi":0.22},{"t":9100,"v":0.115,"lo":0.03,"hi":0.2},{"t":9200,"v":0.125,"lo":0.05,"hi":0.2},{"t":9300,"v":0.12,"lo":0.05,"hi":0.19},{"t":9400,"v":0.118,"lo":0.05,"hi":0.18},{"t":9500,"v":0.115,"lo":0.06,"hi":0.19},{"t":9600,"v":0.145,"lo":0.08,"hi":0.2},{"t":9700,"v":0.14,"lo":0.08,"hi":0.19},{"t":9800,"v":0.135,"lo":0.07,"hi":0.2},{"t":9900,"v":0.125,"lo":0.07,"hi":0.19},
{"t":10000,"v":0.118,"lo":0.06,"hi":0.18},{"t":10100,"v":0.13,"lo":0.07,"hi":0.19},{"t":10200,"v":0.128,"lo":0.07,"hi":0.19},{"t":10300,"v":0.13,"lo":0.08,"hi":0.2},{"t":10400,"v":0.13,"lo":0.07,"hi":0.19},{"t":10500,"v":0.14,"lo":0.08,"hi":0.2},{"t":10600,"v":0.135,"lo":0.08,"hi":0.19},{"t":10700,"v":0.13,"lo":0.07,"hi":0.19},{"t":10800,"v":0.135,"lo":0.08,"hi":0.2},{"t":10900,"v":0.14,"lo":0.08,"hi":0.2},
{"t":11000,"v":0.142,"lo":0.09,"hi":0.2},{"t":11100,"v":0.145,"lo":0.09,"hi":0.21},{"t":11200,"v":0.15,"lo":0.09,"hi":0.2},{"t":11300,"v":0.15,"lo":0.1,"hi":0.21},{"t":11400,"v":0.148,"lo":0.09,"hi":0.2},{"t":11500,"v":0.15,"lo":0.1,"hi":0.21},{"t":11600,"v":0.155,"lo":0.1,"hi":0.21},{"t":11700,"v":0.152,"lo":0.1,"hi":0.22},{"t":11800,"v":0.15,"lo":0.09,"hi":0.21},{"t":11900,"v":0.155,"lo":0.1,"hi":0.21},
{"t":12000,"v":0.15,"lo":0.1,"hi":0.2},{"t":12100,"v":0.148,"lo":0.09,"hi":0.21},{"t":12200,"v":0.15,"lo":0.1,"hi":0.21},{"t":12300,"v":0.145,"lo":0.09,"hi":0.2},{"t":12400,"v":0.15,"lo":0.1,"hi":0.22},{"t":12500,"v":0.148,"lo":0.1,"hi":0.21},{"t":12600,"v":0.155,"lo":0.1,"hi":0.21},{"t":12700,"v":0.16,"lo":0.11,"hi":0.22},{"t":12800,"v":0.158,"lo":0.1,"hi":0.21},{"t":12900,"v":0.15,"lo":0.1,"hi":0.21},
{"t":13000,"v":0.148,"lo":0.1,"hi":0.2},{"t":13100,"v":0.152,"lo":0.1,"hi":0.21},{"t":13200,"v":0.155,"lo":0.1,"hi":0.22},{"t":13300,"v":0.157,"lo":0.11,"hi":0.21},
{"t":50,"v":0.175,"lo":0.11,"hi":0.23},{"t":150,"v":0.19,"lo":0.13,"hi":0.25},{"t":250,"v":0.185,"lo":0.13,"hi":0.24},{"t":350,"v":0.21,"lo":0.15,"hi":0.27},{"t":450,"v":0.205,"lo":0.14,"hi":0.27},{"t":550,"v":0.23,"lo":0.17,"hi":0.3},{"t":650,"v":0.235,"lo":0.17,"hi":0.31},{"t":750,"v":0.25,"lo":0.19,"hi":0.32},{"t":850,"v":0.24,"lo":0.17,"hi":0.31},{"t":950,"v":0.26,"lo":0.2,"hi":0.34},
{"t":1050,"v":0.265,"lo":0.2,"hi":0.34},{"t":1150,"v":0.29,"lo":0.22,"hi":0.37},{"t":1250,"v":0.31,"lo":0.24,"hi":0.4},{"t":1350,"v":0.35,"lo":0.27,"hi":0.45},{"t":1450,"v":0.37,"lo":0.3,"hi":0.46},{"t":1550,"v":0.4,"lo":0.32,"hi":0.52},{"t":1650,"v":0.425,"lo":0.34,"hi":0.53},{"t":1750,"v":0.45,"lo":0.37,"hi":0.58},{"t":1850,"v":0.48,"lo":0.39,"hi":0.6},{"t":1950,"v":0.49,"lo":0.4,"hi":0.63},
{"t":2050,"v":0.52,"lo":0.42,"hi":0.65},{"t":2150,"v":0.5,"lo":0.41,"hi":0.63},{"t":2250,"v":0.53,"lo":0.43,"hi":0.68},{"t":2350,"v":0.52,"lo":0.42,"hi":0.66},{"t":2450,"v":0.52,"lo":0.42,"hi":0.65},{"t":2550,"v":0.5,"lo":0.4,"hi":0.63},{"t":2650,"v":0.505,"lo":0.41,"hi":0.66},{"t":2750,"v":0.49,"lo":0.39,"hi":0.62},{"t":2850,"v":0.475,"lo":0.38,"hi":0.61},{"t":2950,"v":0.48,"lo":0.39,"hi":0.63},
{"t":3050,"v":0.51,"lo":0.41,"hi":0.65},{"t":3150,"v":0.505,"lo":0.4,"hi":0.63},{"t":3250,"v":0.49,"lo":0.39,"hi":0.62},{"t":3350,"v":0.49,"lo":0.4,"hi":0.62},{"t":3450,"v":0.47,"lo":0.38,"hi":0.6},{"t":3550,"v":0.47,"lo":0.37,"hi":0.61},{"t":3650,"v":0.45,"lo":0.36,"hi":0.58},{"t":3750,"v":0.445,"lo":0.35,"hi":0.57},{"t":3850,"v":0.47,"lo":0.37,"hi":0.6},{"t":3950,"v":0.48,"lo":0.38,"hi":0.6},
{"t":4050,"v":0.475,"lo":0.38,"hi":0.61},{"t":4150,"v":0.485,"lo":0.39,"hi":0.62},{"t":4250,"v":0.47,"lo":0.37,"hi":0.59},{"t":4350,"v":0.475,"lo":0.38,"hi":0.62},{"t":4450,"v":0.45,"lo":0.36,"hi":0.57},{"t":4550,"v":0.41,"lo":0.32,"hi":0.54},{"t":4650,"v":0.37,"lo":0.28,"hi":0.5},{"t":4750,"v":0.395,"lo":0.3,"hi":0.52},{"t":4850,"v":0.455,"lo":0.36,"hi":0.58},{"t":4950,"v":0.45,"lo":0.36,"hi":0.57},
{"t":5050,"v":0.44,"lo":0.34,"hi":0.57},{"t":5150,"v":0.415,"lo":0.32,"hi":0.55},{"t":5250,"v":0.46,"lo":0.36,"hi":0.6},{"t":5350,"v":0.52,"lo":0.42,"hi":0.7},{"t":5450,"v":0.515,"lo":0.41,"hi":0.66},{"t":5550,"v":0.51,"lo":0.4,"hi":0.67},{"t":5650,"v":0.49,"lo":0.39,"hi":0.63},{"t":5750,"v":0.5,"lo":0.39,"hi":0.68},{"t":5850,"v":0.495,"lo":0.39,"hi":0.65},{"t":5950,"v":0.51,"lo":0.4,"hi":0.69},
{"t":6050,"v":0.545,"lo":0.43,"hi":0.72},{"t":6150,"v":0.54,"lo":0.43,"hi":0.7},{"t":6250,"v":0.5,"lo":0.39,"hi":0.69},{"t":6350,"v":0.52,"lo":0.41,"hi":0.74},{"t":6450,"v":0.565,"lo":0.45,"hi":0.76},{"t":6550,"v":0.57,"lo":0.45,"hi":0.74},{"t":6650,"v":0.54,"lo":0.43,"hi":0.78},{"t":6750,"v":0.535,"lo":0.42,"hi":0.72},{"t":6850,"v":0.575,"lo":0.45,"hi":0.78},{"t":6950,"v":0.55,"lo":0.44,"hi":0.76},
{"t":7050,"v":0.52,"lo":0.41,"hi":0.72},{"t":7150,"v":0.55,"lo":0.43,"hi":0.77},{"t":7250,"v":0.575,"lo":0.45,"hi":0.78},{"t":7350,"v":0.55,"lo":0.44,"hi":0.74},{"t":7450,"v":0.575,"lo":0.45,"hi":0.79},{"t":7550,"v":0.52,"lo":0.41,"hi":0.71},{"t":7650,"v":0.505,"lo":0.4,"hi":0.69},{"t":7750,"v":0.49,"lo":0.38,"hi":0.66},{"t":7850,"v":0.485,"lo":0.37,"hi":0.63},{"t":7950,"v":0.47,"lo":0.36,"hi":0.61},
{"t":8050,"v":0.46,"lo":0.34,"hi":0.6},{"t":8150,"v":0.41,"lo":0.31,"hi":0.55},{"t":8250,"v":0.39,"lo":0.28,"hi":0.5},{"t":8350,"v":0.37,"lo":0.26,"hi":0.51},{"t":8450,"v":0.335,"lo":0.23,"hi":0.46},{"t":8550,"v":0.315,"lo":0.21,"hi":0.43},{"t":8650,"v":0.27,"lo":0.17,"hi":0.39},{"t":8750,"v":0.23,"lo":0.13,"hi":0.33},{"t":8850,"v":0.19,"lo":0.09,"hi":0.29},{"t":8950,"v":0.15,"lo":0.06,"hi":0.25},
{"t":9050,"v":0.12,"lo":0.04,"hi":0.2},{"t":9150,"v":0.125,"lo":0.04,"hi":0.21},{"t":9250,"v":0.115,"lo":0.04,"hi":0.19},{"t":9350,"v":0.125,"lo":0.05,"hi":0.2},{"t":9450,"v":0.11,"lo":0.05,"hi":0.18},{"t":9550,"v":0.135,"lo":0.07,"hi":0.2},{"t":9650,"v":0.14,"lo":0.08,"hi":0.2},{"t":9750,"v":0.13,"lo":0.07,"hi":0.19},{"t":9850,"v":0.128,"lo":0.07,"hi":0.19},{"t":9950,"v":0.12,"lo":0.06,"hi":0.18},
{"t":10050,"v":0.125,"lo":0.07,"hi":0.19},{"t":10150,"v":0.132,"lo":0.07,"hi":0.19},{"t":10250,"v":0.125,"lo":0.07,"hi":0.19},{"t":10350,"v":0.135,"lo":0.08,"hi":0.2},{"t":10450,"v":0.135,"lo":0.08,"hi":0.2},{"t":10550,"v":0.13,"lo":0.07,"hi":0.19},{"t":10650,"v":0.14,"lo":0.08,"hi":0.2},{"t":10750,"v":0.135,"lo":0.08,"hi":0.19},{"t":10850,"v":0.14,"lo":0.08,"hi":0.21},{"t":10950,"v":0.135,"lo":0.08,"hi":0.19},
{"t":11050,"v":0.148,"lo":0.09,"hi":0.21},{"t":11150,"v":0.14,"lo":0.09,"hi":0.2},{"t":11250,"v":0.148,"lo":0.09,"hi":0.21},{"t":11350,"v":0.155,"lo":0.1,"hi":0.21},{"t":11450,"v":0.15,"lo":0.1,"hi":0.22},{"t":11550,"v":0.148,"lo":0.09,"hi":0.2},{"t":11650,"v":0.15,"lo":0.1,"hi":0.21},{"t":11750,"v":0.158,"lo":0.1,"hi":0.21},{"t":11850,"v":0.155,"lo":0.1,"hi":0.22},{"t":11950,"v":0.15,"lo":0.1,"hi":0.2},
{"t":12050,"v":0.155,"lo":0.1,"hi":0.21},{"t":12150,"v":0.152,"lo":0.1,"hi":0.21},{"t":12250,"v":0.148,"lo":0.09,"hi":0.2},{"t":12350,"v":0.152,"lo":0.1,"hi":0.21},{"t":12450,"v":0.155,"lo":0.1,"hi":0.22},{"t":12550,"v":0.15,"lo":0.1,"hi":0.21},{"t":12650,"v":0.16,"lo":0.11,"hi":0.22},{"t":12750,"v":0.155,"lo":0.1,"hi":0.21},{"t":12850,"v":0.152,"lo":0.1,"hi":0.2},{"t":12950,"v":0.155,"lo":0.1,"hi":0.21},
{"t":13050,"v":0.15,"lo":0.1,"hi":0.21},{"t":13150,"v":0.158,"lo":0.11,"hi":0.22},{"t":13250,"v":0.152,"lo":0.1,"hi":0.21}
]
},
"vconcat":[
{
"title":{"text":"Atlantic freshwater budget [Sv]","fontSize":32,"font":"Liberation Sans","fontWeight":"normal","color":"#000","anchor":"middle","frame":"group","offset":20,"dx":5},
"width":926,"height":234,
"layer":[
{"data":{"name":"a"},"mark":{"type":"area","color":"#bebebe"},
"encoding":{"x":{"field":"t","type":"quantitative","scale":{"domain":[0,13320],"nice":false,"zero":false},"axis":null},
"y":{"field":"lo","type":"quantitative","title":"-(E-P-R) [Sv]","scale":{"domain":[-1.4,0],"nice":false,"zero":false},
"axis":{"values":[-1.4,-1.2,-1.0,-0.8,-0.6,-0.4,-0.2,0],"tickCount":50,"labelExpr":"replace(format(datum.value,'.1f'),'\u2212','-')","labelOverlap":false,"labelFlush":false,"labelBound":false,"tickSize":20,"labelPadding":17,"titleX":-83,"titleBaseline":"bottom"}},
"y2":{"field":"hi"}}},
{"data":{"name":"a"},"transform":[{"filter":"datum.t<=7500"}],"mark":{"type":"line","color":"#0000ff","strokeWidth":2.4},
"encoding":{"x":{"field":"t","type":"quantitative"},"y":{"field":"v","type":"quantitative","title":"-(E-P-R) [Sv]"}}},
{"data":{"name":"a"},"transform":[{"filter":"datum.t>=7500"}],"mark":{"type":"line","color":"#ff0000","strokeWidth":2.4},
"encoding":{"x":{"field":"t","type":"quantitative"},"y":{"field":"v","type":"quantitative","title":"-(E-P-R) [Sv]"}}},
{"data":{"values":[{"lab":"(a)"}]},"mark":{"type":"text","align":"left","baseline":"top","fontSize":33,"font":"Liberation Sans","color":"#000","dx":13,"dy":1},
"encoding":{"text":{"field":"lab"},"x":{"datum":0},"y":{"datum":0}}}
]
},
{
"width":926,"height":234,
"layer":[
{"data":{"name":"b"},"mark":{"type":"area","color":"#bebebe"},
"encoding":{"x":{"field":"t","type":"quantitative","scale":{"domain":[0,13320],"nice":false,"zero":false},"axis":null},
"y":{"field":"lo","type":"quantitative","title":"Mov [Sv]","scale":{"domain":[0,0.8],"nice":false,"zero":false},
"axis":{"values":[0,0.2,0.4,0.6],"tickCount":50,"labelExpr":"format(datum.value,'.1f')","labelOverlap":false,"labelFlush":false,"labelBound":false,"tickSize":20,"labelPadding":17,"titleX":-83,"titleBaseline":"bottom"}},
"y2":{"field":"hi"}}},
{"data":{"name":"b"},"transform":[{"filter":"datum.t<=7500"}],"mark":{"type":"line","color":"#0000ff","strokeWidth":2.4},
"encoding":{"x":{"field":"t","type":"quantitative"},"y":{"field":"v","type":"quantitative","title":"Mov [Sv]"}}},
{"data":{"name":"b"},"transform":[{"filter":"datum.t>=7500"}],"mark":{"type":"line","color":"#ff0000","strokeWidth":2.4},
"encoding":{"x":{"field":"t","type":"quantitative"},"y":{"field":"v","type":"quantitative","title":"Mov [Sv]"}}},
{"data":{"values":[{"lab":"(b)"}]},"mark":{"type":"text","align":"left","baseline":"top","fontSize":33,"font":"Liberation Sans","color":"#000","dx":13,"dy":9},
"encoding":{"text":{"field":"lab"},"x":{"datum":0},"y":{"datum":0.8}}}
]
},
{
"width":926,"height":234,
"layer":[
{"data":{"name":"c"},"mark":{"type":"area","color":"#bebebe"},
"encoding":{"x":{"field":"t","type":"quantitative","title":"Time/year","scale":{"domain":[0,13320],"nice":false,"zero":false},
"axis":{"values":[0,500,1000,1500,2000,2500,3000,3500,4000,4500,5000,5500,6000,6500,7000,7500,8000,8500,9000,9500,10000,10500,11000,11500,12000,12500,13000],"tickCount":100,
"tickSize":{"condition":{"test":"datum.value % 2000 === 0","value":20},"value":10},
"labelExpr":"datum.value % 2000 === 0 ? '' + datum.value : ''","labelOverlap":false,"labelFlush":false,"labelPadding":15,"titlePadding":11}},
"y":{"field":"lo","type":"quantitative","title":"Maz [Sv]","scale":{"domain":[0,0.8],"nice":false,"zero":false},
"axis":{"values":[0,0.2,0.4,0.6],"tickCount":50,"labelExpr":"format(datum.value,'.1f')","labelOverlap":false,"labelFlush":false,"labelBound":false,"tickSize":20,"labelPadding":17,"titleX":-83,"titleBaseline":"bottom"}},
"y2":{"field":"hi"}}},
{"data":{"name":"c"},"transform":[{"filter":"datum.t<=7500"}],"mark":{"type":"line","color":"#0000ff","strokeWidth":2.4},
"encoding":{"x":{"field":"t","type":"quantitative","title":"Time/year"},"y":{"field":"v","type":"quantitative","title":"Maz [Sv]"}}},
{"data":{"name":"c"},"transform":[{"filter":"datum.t>=7500"}],"mark":{"type":"line","color":"#ff0000","strokeWidth":2.4},
"encoding":{"x":{"field":"t","type":"quantitative","title":"Time/year"},"y":{"field":"v","type":"quantitative","title":"Maz [Sv]"}}},
{"data":{"values":[{"lab":"(c)"}]},"mark":{"type":"text","align":"left","baseline":"top","fontSize":33,"font":"Liberation Sans","color":"#000","dx":13,"dy":11},
"encoding":{"text":{"field":"lab"},"x":{"datum":0},"y":{"datum":0.8}}}
]
}
]
}
